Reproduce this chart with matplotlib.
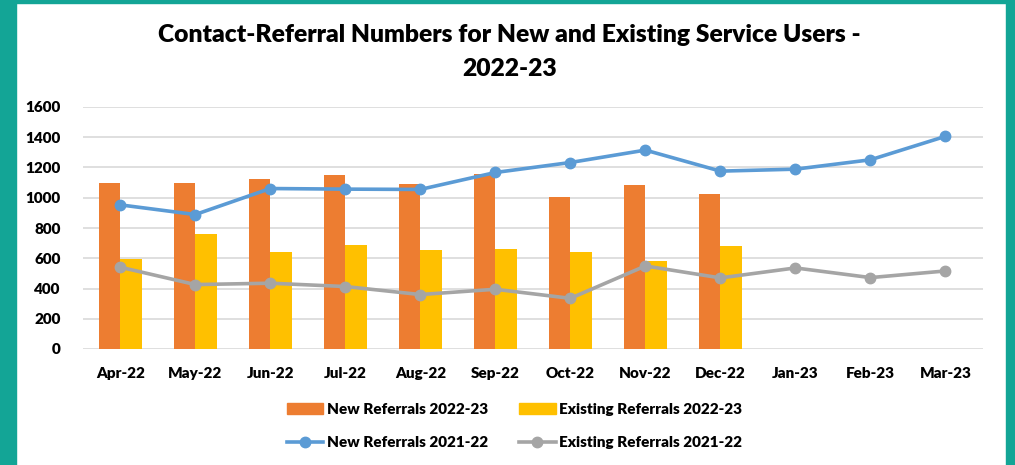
import numpy as np
import matplotlib
matplotlib.use("Agg")
import matplotlib.pyplot as plt
from matplotlib.patches import Rectangle
from matplotlib.lines import Line2D
from matplotlib.patches import Patch

# data
months = ["Apr-22", "May-22", "Jun-22", "Jul-22", "Aug-22", "Sep-22",
          "Oct-22", "Nov-22", "Dec-22", "Jan-23", "Feb-23", "Mar-23"]
new_2223 = [1100, 1100, 1125, 1150, 1088, 1156, 1006, 1086, 1022]
existing_2223 = [596, 761, 640, 686, 657, 662, 642, 580, 684]
new_2122 = [953, 889, 1061, 1057, 1055, 1167, 1233, 1315, 1176, 1189, 1251, 1406]
existing_2122 = [541, 426, 435, 413, 360, 395, 335, 549, 470, 536, 472, 516]

c_orange = "#ED7D31"
c_yellow = "#FFC000"
c_blue = "#5B9BD5"
c_grey = "#A5A5A5"
teal = "#13A596"

plt.rcParams['font.family'] = ['Lato', 'DejaVu Sans']
plt.rcParams['font.weight'] = 'heavy'

fig = plt.figure(figsize=(10.15, 4.65), dpi=100)

# teal frame
fig.patches.append(Rectangle((0, 0), 16 / 1015, 1, transform=fig.transFigure,
                             color=teal, zorder=0))
fig.patches.append(Rectangle((1006 / 1015, 0), 9 / 1015, 1, transform=fig.transFigure,
                             color=teal, zorder=0))
fig.patches.append(Rectangle((0, 1 - 3 / 465), 1, 3 / 465, transform=fig.transFigure,
                             color=teal, zorder=0))

ax = fig.add_axes([82.7 / 1015, 1 - 349 / 465, 900.3 / 1015, 242 / 465])

x = np.arange(len(months))
w = 0.287
xb = np.arange(len(new_2223))
ax.bar(xb - w / 2, new_2223, w, color=c_orange, zorder=2)
ax.bar(xb + w / 2, existing_2223, w, color=c_yellow, zorder=2)
ax.plot(x, new_2122, color=c_blue, lw=2.6, marker="o", ms=7.5, zorder=3)
ax.plot(x, existing_2122, color=c_grey, lw=2.6, marker="o", ms=7.5, zorder=3)

ax.set_xlim(-0.5, len(months) - 0.5)
ax.set_ylim(0, 1600)
ax.set_yticks(np.arange(0, 1601, 200))
ax.set_xticks(x)
ax.set_xticklabels(months)
ax.yaxis.grid(True, color="#D9D9D9", lw=1.2, zorder=0)
ax.set_axisbelow(True)
for s in ax.spines.values():
    s.set_visible(False)
ax.tick_params(axis="both", length=0, labelsize=11)
ax.tick_params(axis="y", pad=16)
ax.tick_params(axis="x", pad=13)

fig.text(0.502, 1 - 52 / 465,
         "Contact-Referral Numbers for New and Existing Service Users -\n2022-23",
         ha="center", va="center", fontsize=17.75, linespacing=1.62)

handles = [
    Patch(color=c_orange, label="New Referrals 2022-23"),
    Line2D([0], [0], color=c_blue, lw=2.6, marker="o", ms=7.5, label="New Referrals 2021-22"),
    Patch(color=c_yellow, label="Existing Referrals 2022-23"),
    Line2D([0], [0], color=c_grey, lw=2.6, marker="o", ms=7.5, label="Existing Referrals 2021-22"),
]
fig.legend(handles=handles, ncol=2, loc="center", bbox_to_anchor=(0.507, 1 - 426 / 465),
           frameon=False, fontsize=11, handlelength=2.4, handleheight=0.7,
           handletextpad=0.25, columnspacing=2.0, labelspacing=1.3)

fig.savefig("out.png", dpi=100)
